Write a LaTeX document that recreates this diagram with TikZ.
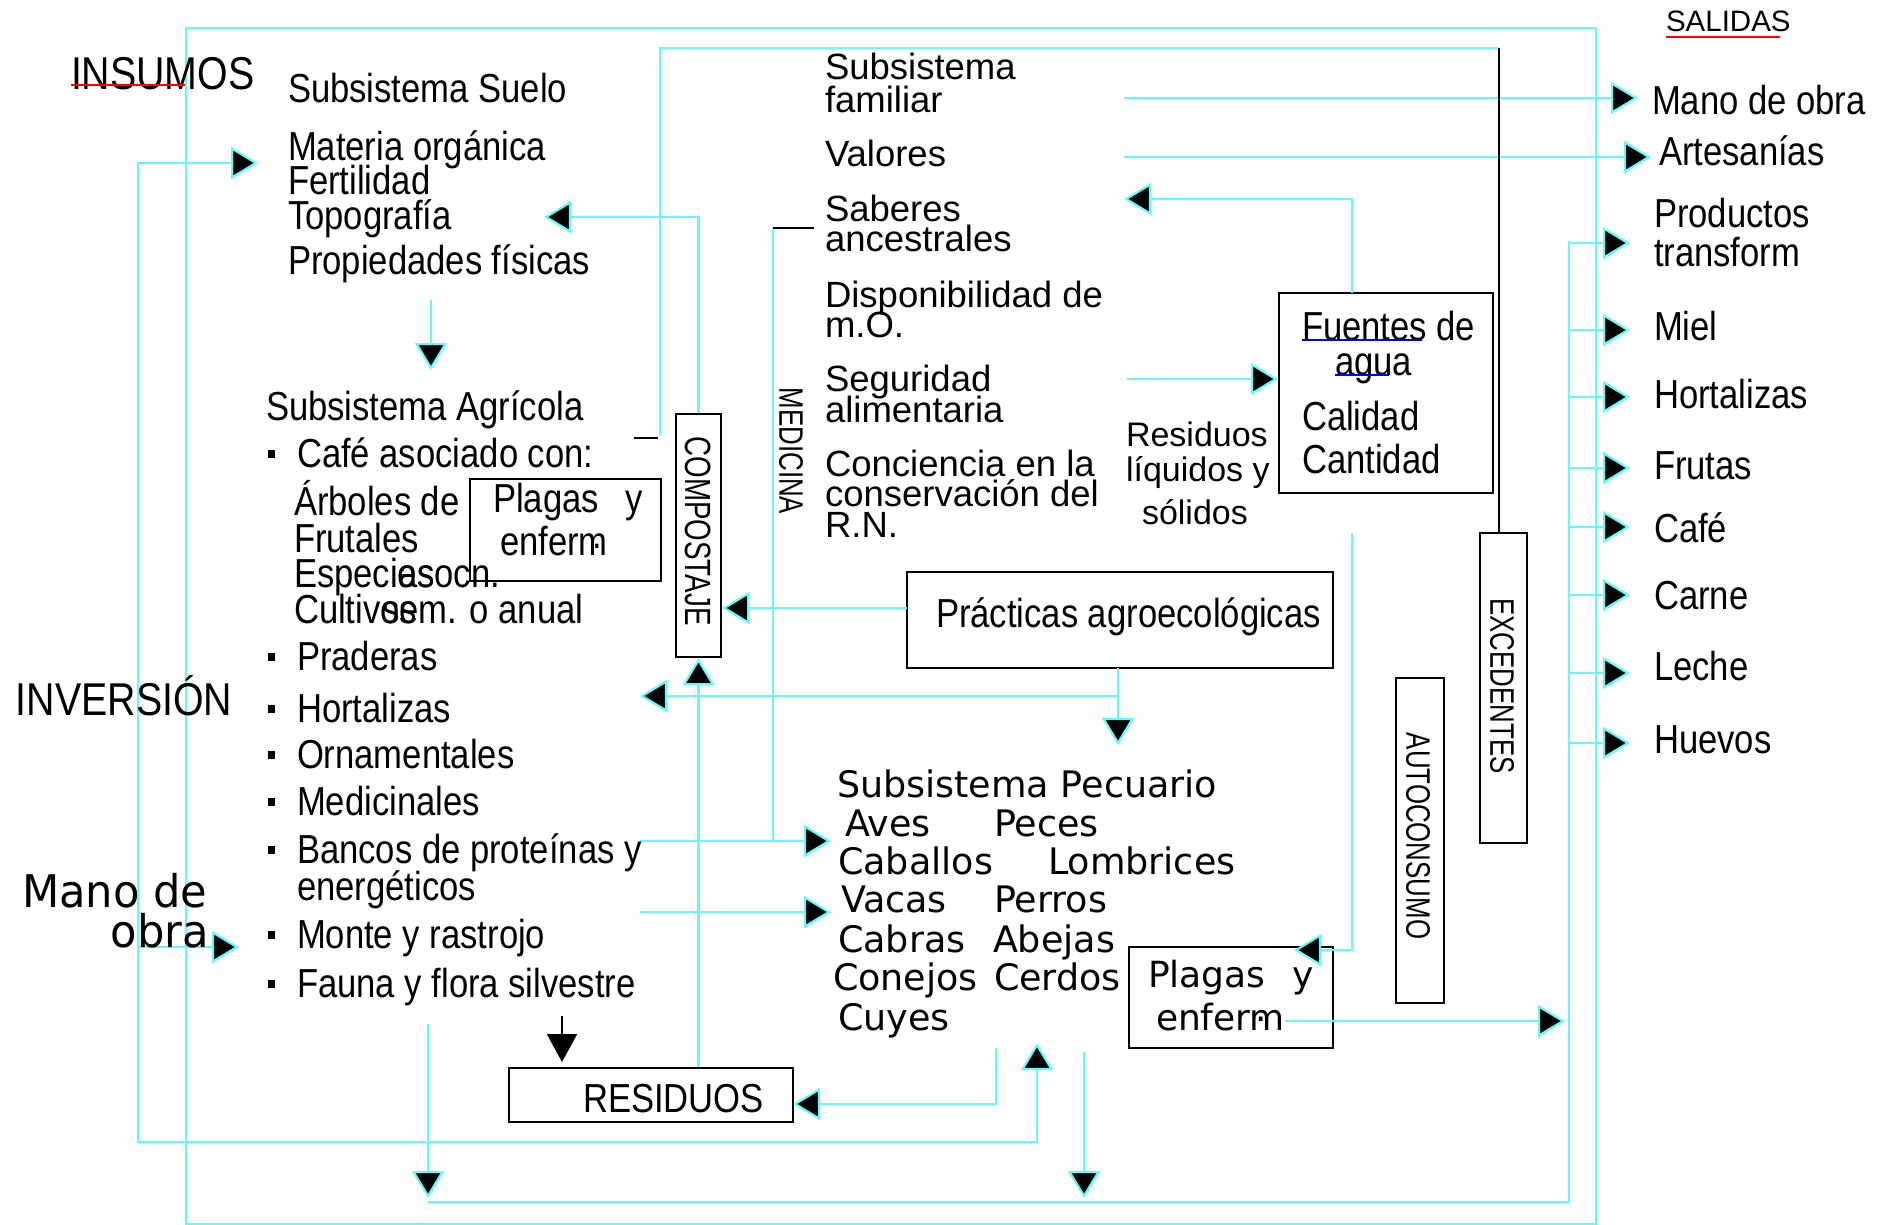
\documentclass[tikz,border=0pt]{standalone}
\usepackage{fontspec}
\setmainfont{Liberation Sans}
\newfontfamily\condfam[FakeStretch=0.855]{Liberation Sans}
\newfontfamily\narrowfam[FakeStretch=0.76]{Liberation Sans}
\newfontfamily\vfam{DejaVu Sans}
\newfontfamily\vcondfam[FakeStretch=0.96]{DejaVu Sans}
\usetikzlibrary{arrows.meta}

\definecolor{linecyan}{RGB}{100,250,250}
\definecolor{markred}{RGB}{255,0,0}
\definecolor{markblue}{RGB}{0,0,230}

\newcommand\txcond{\condfam\fontsize{40.5pt}{40.5pt}\selectfont}
\newcommand\txbig{\condfam\fontsize{46pt}{46pt}\selectfont}
\newcommand\txplain{\fontsize{36.5pt}{36.5pt}\selectfont}
\newcommand\txres{\fontsize{34pt}{34pt}\selectfont}
\newcommand\txsal{\fontsize{29.5pt}{29.5pt}\selectfont}
\newcommand\txpec{\vfam\fontsize{36.5pt}{36.5pt}\selectfont}
\newcommand\txplg{\vfam\fontsize{36pt}{36pt}\selectfont}
\newcommand\txmob{\vcondfam\fontsize{45pt}{45pt}\selectfont}
\newcommand\txvert{\narrowfam\fontsize{34pt}{34pt}\selectfont}
\newcommand\txvertb{\narrowfam\fontsize{36.5pt}{36.5pt}\selectfont}

\begin{document}
\begin{tikzpicture}[x=1pt,y=-1pt,
  lbl/.style={inner sep=0pt, outer sep=0pt, anchor=base west},
  cyl/.style={draw=linecyan, line width=2.2pt},
  arr/.style={-{Triangle[length=27pt,width=32pt,fill=black]}},
  arrboth/.style={{Triangle[length=27pt,width=32pt,fill=black]}-{Triangle[length=27pt,width=32pt,fill=black]}},
  bx/.style={draw=black, line width=2.4pt, fill=white, inner sep=0pt},
  vlbl/.style={inner sep=0pt, rotate=-90},
  blk/.style={draw=black, line width=2pt},
  bul/.style={fill=black}
]
\useasboundingbox (0,0) rectangle (1880,1225);

% ---------- boxes ----------
\node[bx, minimum width=191pt, minimum height=102pt] (plagA) at (565.5,530) {};
\node[bx, minimum width=45pt,  minimum height=243pt] (comp)  at (698.5,535.5) {};
\node[bx, minimum width=214pt, minimum height=200pt] (fuen)  at (1386,393) {};
\node[bx, minimum width=426pt, minimum height=96pt]  (prac)  at (1120,620) {};
\node[bx, minimum width=47pt,  minimum height=310pt] (excd)  at (1503.5,688) {};
\node[bx, minimum width=48pt,  minimum height=325pt] (autc)  at (1420,840.5) {};
\node[bx, minimum width=204pt, minimum height=101pt] (plagB) at (1231,997.5) {};
\node[bx, minimum width=284pt, minimum height=54pt]  (resd)  at (651,1095) {};

% ---------- system frame ----------
\draw[cyl] (186,28) rectangle (1596,1224);

% ---------- connector end points ----------
\coordinate (matIn)  at (258,163);
\coordinate (lpTop)  at (138,163);
\coordinate (lpBot)  at (138,1142);
\coordinate (pecUp)  at (1037,1043);
\coordinate (lpMob)  at (138,947);
\coordinate (monIn)  at (239,947);
\coordinate (agrTop) at (660,435);
\coordinate (topL)   at (660,48);
\coordinate (topR)   at (1499,48);
\coordinate (tkA)    at (634,438);
\coordinate (tkB)    at (658,438);
\coordinate (topoIn) at (544,217);
\coordinate (famOut) at (1124,98);
\coordinate (mobOut) at (1638,98);
\coordinate (valOut) at (1124,157);
\coordinate (artOut) at (1651,157);
\coordinate (fuTop)  at (1352,293);
\coordinate (sabIn)  at (1124,199);
\coordinate (segOut) at (1127,379);
\coordinate (sueDn)  at (431,300);
\coordinate (agrIn)  at (431,370);
\coordinate (pracW)  at (907,608);
\coordinate (prS)    at (1118,668);
\coordinate (prSplit) at (1118,696);
\coordinate (agrIn2) at (640,696);
\coordinate (pecIn2) at (1118,745);
\coordinate (medTop) at (773,228);
\coordinate (medTk)  at (814,228);
\coordinate (medBot) at (773,841);
\coordinate (banOut) at (640,841);
\coordinate (avesIn) at (831,841);
\coordinate (eneOut) at (640,912);
\coordinate (vacIn)  at (831,912);
\coordinate (pecRes) at (996,1048);
\coordinate (resIn)  at (793,1104);
\coordinate (pecDn)  at (1084,1052);
\coordinate (pecBot) at (1084,1198);
\coordinate (agrDn)  at (428,1024);
\coordinate (agrBot) at (428,1198);
\coordinate (botL)   at (428,1202);
\coordinate (botR)   at (1569,1202);
\coordinate (inTop)  at (1569,241);
\coordinate (fuBr)   at (1352,533);
\coordinate (plgIn)  at (1294,950);
\coordinate (plgOut) at (1285,1021);
\coordinate (plgEnd) at (1565,1021);
\coordinate (fauDn)  at (562,1016);
\coordinate (fauRes) at (562,1062);

% ---------- cyan flows ----------
\draw[cyl,arrboth] (matIn) -- (lpTop) -- (lpBot) -| (pecUp);
\draw[cyl,arr] (lpMob) -- (monIn);
\draw[cyl] (agrTop) -- (topL) -- (topR);
\draw[cyl,arr] (comp.north) |- (topoIn);
\draw[cyl,arr] (famOut) -- (mobOut);
\draw[cyl,arr] (valOut) -- (artOut);
\draw[cyl,arr] (fuTop) |- (sabIn);
\draw[cyl,arr] (segOut) -- (segOut -| fuen.west);
\draw[cyl,arr] (sueDn) -- (agrIn);
\draw[cyl,arr] (pracW) -- (pracW -| comp.east);
\draw[cyl,arr] (prS) -- (pecIn2);
\draw[cyl,arr] (prSplit) -- (agrIn2);
\draw[cyl,arr] (resd.north -| comp.south) -- (comp.south);
\draw[cyl] (medTop) -- (medBot);
\draw[cyl,arr] (banOut) -- (avesIn);
\draw[cyl,arr] (eneOut) -- (vacIn);
\draw[cyl,arr] (pecRes) |- (resIn);
\draw[cyl,arr] (pecDn) -- (pecBot);
\draw[cyl,arr] (agrDn) -- (agrBot);
\draw[cyl] (botL) -- (botR) -- (inTop);
\foreach \nm/\yy in {prod/243,miel/330,hort/397,frut/468,cafe/527,carn/595,lech/673,huev/743}{
  \coordinate (\nm-in) at (1630,\yy);
  \draw[cyl,arr] (inTop |- \nm-in) -- (\nm-in);
}
\draw[cyl,arr] (fuBr) |- (plgIn);
\draw[cyl,arr] (plgOut) -- (plgEnd);

% ---------- black lines ----------
\draw[blk] (topR) -- (topR |- excd.north);
\draw[blk] (tkA) -- (tkB);
\draw[blk] (medTop) -- (medTk);
\draw[blk,-{Triangle[length=28pt,width=30pt]}] (fauDn) -- (fauRes);

% ---------- side labels ----------
\node[lbl,font=\txbig] (insumos) at (71,90) {INSUMOS};
\draw[markred,line width=2.6pt] ([yshift=5pt]insumos.base west) -- ++(114,0);
\node[lbl,font=\txbig] (inversion) at (16,715) {INVERSIÓN};
\node[lbl,font=\txmob] (mobA) at (22,907) {Mano de};
\node[lbl,font=\txmob,anchor=base east] (mobB) at (209,947) {obra};
\node[lbl,font=\txsal] (salidas) at (1666,32) {SALIDAS};
\draw[markred,line width=2.6pt] ([yshift=-5pt]salidas.base west) -- ++(114,0);

% ---------- soil subsystem ----------
\node[lbl,font=\txcond] (suelo) at (288,103) {Subsistema Suelo};
\node[lbl,font=\txcond] (mo)    at (288,161) {Materia orgánica};
\node[lbl,font=\txcond] (fert)  at (288,195) {Fertilidad};
\node[lbl,font=\txcond] (topo)  at (288,230) {Topografía};
\node[lbl,font=\txcond] (prop)  at (288,275) {Propiedades físicas};

% ---------- agricultural subsystem ----------
\node[lbl,font=\txcond] (agri)  at (266,420) {Subsistema Agrícola};
\node[lbl,font=\txcond] (cafA)  at (297,467) {Café asociado con:};
\node[lbl,font=\txcond] (arb)   at (294,515) {Árboles de};
\node[lbl,font=\txcond] (frt)   at (294,552) {Frutales};
\node[lbl,font=\txcond] (esp)   at (294,587) {Especies};
\node[lbl,font=\txcond] (espB)  at (398,587) {asocn.};
\node[lbl,font=\txcond] (cul)   at (294,623) {Cultivos};
\node[lbl,font=\txcond] (culB)  at (382,623) {sem. o anual};
\node[lbl,font=\txcond] (prad)  at (297,670) {Praderas};
\node[lbl,font=\txcond] (horA)  at (297,722) {Hortalizas};
\node[lbl,font=\txcond] (orn)   at (297,768) {Ornamentales};
\node[lbl,font=\txcond] (medc)  at (297,815) {Medicinales};
\node[lbl,font=\txcond] (ban)   at (297,863) {Bancos de proteínas y};
\node[lbl,font=\txcond] (ene)   at (297,900) {energéticos};
\node[lbl,font=\txcond] (mon)   at (297,948) {Monte y rastrojo};
\node[lbl,font=\txcond] (fau)   at (297,997) {Fauna y flora silvestre};
\foreach \yy in {467,670,722,768,815,863,948,997}{
  \fill[bul] (268,\yy-17) rectangle (275,\yy-9);
}
\node[lbl,font=\txcond] (plgAa) at (493,512) {Plagas};
\node[lbl,font=\txcond] (plgAy) at (625,512) {y};
\node[lbl,font=\txcond] (plgAb) at (500,555) {enferm\kern-15pt\raisebox{7pt}{.}};

% ---------- family subsystem ----------
\node[lbl,font=\txplain] (famA) at (825,80)  {Subsistema};
\node[lbl,font=\txplain] (famB) at (825,113) {familiar};
\node[lbl,font=\txplain] (val)  at (825,167) {Valores};
\node[lbl,font=\txplain] (sabA) at (825,222) {Saberes};
\node[lbl,font=\txplain] (sabB) at (825,252) {ancestrales};
\node[lbl,font=\txplain] (disA) at (825,307) {Disponibilidad de};
\node[lbl,font=\txplain] (disB) at (825,337) {m.O.};
\node[lbl,font=\txplain] (segA) at (825,391) {Seguridad};
\node[lbl,font=\txplain] (segB) at (825,422) {alimentaria};
\node[lbl,font=\txplain] (conA) at (825,476) {Conciencia en la};
\node[lbl,font=\txplain] (conB) at (825,506) {conservación del};
\node[lbl,font=\txplain] (conC) at (825,537) {R.N.};

\node[lbl,font=\txres] (rlA) at (1126,446) {Residuos};
\node[lbl,font=\txres] (rlB) at (1126,481) {líquidos y};
\node[lbl,font=\txres] (rlC) at (1142,524) {sólidos};

\node[lbl,font=\txcond] (fuA) at (1302,340) {Fuentes de};
\node[lbl,font=\txcond] (fuB) at (1335,375) {agua};
\node[lbl,font=\txcond] (fuC) at (1302,430) {Calidad};
\node[lbl,font=\txcond] (fuD) at (1302,473) {Cantidad};
\draw[markblue,line width=2.4pt] (fuA.base west) -- ++(120,0);
\draw[markblue,line width=2.4pt] (fuB.base west) -- ++(54,0);

\node[lbl,font=\txcond] (pracT) at (936,627) {Prácticas agroecológicas};

% ---------- livestock subsystem ----------
\node[lbl,font=\txpec] (pec)  at (837,797)  {Subsistema Pecuario};
\node[lbl,font=\txpec] (aves) at (845,836)  {Aves};
\node[lbl,font=\txpec] (pecs) at (994,836)  {Peces};
\node[lbl,font=\txpec] (cab)  at (838,874)  {Caballos};
\node[lbl,font=\txpec] (lomb) at (1048,874) {Lombrices};
\node[lbl,font=\txpec] (vac)  at (841,912)  {Vacas};
\node[lbl,font=\txpec] (perr) at (994,912)  {Perros};
\node[lbl,font=\txpec] (cabr) at (838,952)  {Cabras};
\node[lbl,font=\txpec] (abej) at (993,952)  {Abejas};
\node[lbl,font=\txpec] (cone) at (833,990)  {Conejos};
\node[lbl,font=\txpec] (cerd) at (994,990)  {Cerdos};
\node[lbl,font=\txpec] (cuy)  at (838,1030) {Cuyes};

\node[lbl,font=\txplg] (plgBa) at (1148,987)  {Plagas};
\node[lbl,font=\txplg] (plgBy) at (1292,987)  {y};
\node[lbl,font=\txplg] (plgBb) at (1156,1030) {enferm\kern-30pt\raisebox{9pt}{.}\kern20pt};

\node[lbl,font=\txcond] (resT) at (583,1112) {RESIDUOS};

% ---------- vertical labels ----------
\node[vlbl,font=\txvertb] (compT) at (698,531)  {COMPOSTAJE};
\node[vlbl,font=\txvert]  (medT)  at (791,451)  {MEDICINA};
\node[vlbl,font=\txvert]  (excT)  at (1502,686) {EXCEDENTES};
\node[vlbl,font=\txvert]  (autT)  at (1418,836) {AUTOCONSUMO};

% ---------- outputs ----------
\node[lbl,font=\txcond] (oMob)  at (1652,115) {Mano de obra};
\node[lbl,font=\txcond] (oArt)  at (1659,166) {Artesanías};
\node[lbl,font=\txcond] (oProA) at (1654,228) {Productos};
\node[lbl,font=\txcond] (oProB) at (1654,267) {transform};
\node[lbl,font=\txcond] (oMie)  at (1654,340) {Miel};
\node[lbl,font=\txcond] (oHor)  at (1654,408) {Hortalizas};
\node[lbl,font=\txcond] (oFru)  at (1654,479) {Frutas};
\node[lbl,font=\txcond] (oCaf)  at (1654,542) {Café};
\node[lbl,font=\txcond] (oCar)  at (1654,609) {Carne};
\node[lbl,font=\txcond] (oLec)  at (1654,680) {Leche};
\node[lbl,font=\txcond] (oHue)  at (1654,753) {Huevos};
\end{tikzpicture}
\end{document}
